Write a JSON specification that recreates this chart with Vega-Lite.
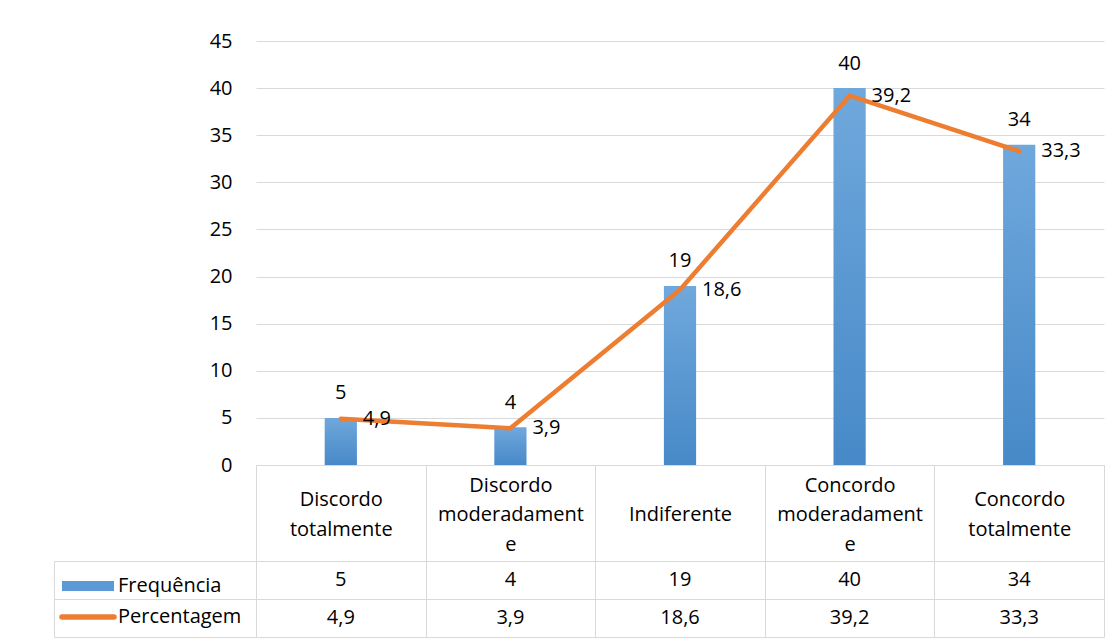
{
  "$schema": "https://vega.github.io/schema/vega-lite/v6.json",
  "background": "white",
  "padding": {"left": 53, "top": 31, "right": 0, "bottom": 0},
  "bounds": "flush",
  "spacing": 96,
  "config": {
    "font": "Open Sans",
    "locale": {"number": {"decimal": ",", "thousands": ".", "grouping": [3], "currency": ["", " €"]}},
    "view": {"stroke": null},
    "axis": {"labelFont": "Open Sans", "labelFontSize": 20, "labelColor": "#000000"},
    "text": {"font": "Open Sans", "fontSize": 20, "fill": "#000000"},
    "legend": {"labelFont": "Open Sans", "labelFontSize": 20, "labelColor": "#000000"}
  },
  "data": {
    "values": [
      {"Categoria": "Discordo totalmente", "Frequência": 5, "Percentagem": 4.9},
      {"Categoria": "Discordo moderadamente", "Frequência": 4, "Percentagem": 3.9},
      {"Categoria": "Indiferente", "Frequência": 19, "Percentagem": 18.6},
      {"Categoria": "Concordo moderadamente", "Frequência": 40, "Percentagem": 39.2},
      {"Categoria": "Concordo totalmente", "Frequência": 34, "Percentagem": 33.3}
    ]
  },
  "vconcat": [
    {
      "width": 848,
      "height": 424,
      "encoding": {
        "x": {
          "field": "Categoria",
          "type": "nominal",
          "sort": null,
          "scale": {"paddingInner": 0, "paddingOuter": 0},
          "axis": {
            "title": null,
            "orient": "bottom",
            "domain": true,
            "domainColor": "#d9d9d9",
            "ticks": true,
            "tickBand": "extent",
            "tickSize": 96,
            "tickColor": "#d9d9d9",
            "labelAngle": 0,
            "labelBaseline": "middle",
            "labelPadding": -76,
            "labelLineHeight": 14.75,
            "labelOverlap": false,
            "labelFlush": false,
            "labelExpr": "datum.label == 'Discordo moderadamente' ? ['Discordo', '\u2800', 'moderadament', '\u2800', 'e'] : datum.label == 'Concordo moderadamente' ? ['Concordo', '\u2800', 'moderadament', '\u2800', 'e'] : datum.label == 'Indiferente' ? ['\u2800', '\u2800', 'Indiferente'] : ['\u2800', split(datum.label, ' ')[0], '\u2800', split(datum.label, ' ')[1]]"
          }
        }
      },
      "layer": [
        {
          "mark": {
            "type": "bar",
            "width": {"band": 0.19},
            "fill": {
              "gradient": "linear",
              "x1": 0, "y1": 0, "x2": 0, "y2": 1,
              "stops": [
                {"offset": 0, "color": "#6fa8dc"},
                {"offset": 1, "color": "#4789c8"}
              ]
            }
          },
          "encoding": {
            "y": {
              "field": "Frequência",
              "type": "quantitative",
              "scale": {"domain": [0, 45], "nice": false},
              "axis": {
                "title": null,
                "values": [0, 5, 10, 15, 20, 25, 30, 35, 40, 45],
                "domain": false,
                "ticks": false,
                "labelPadding": 24,
                "grid": true,
                "gridColor": "#d9d9d9"
              }
            }
          }
        },
        {
          "mark": {"type": "line", "strokeWidth": 4.5, "strokeCap": "round", "strokeJoin": "round"},
          "encoding": {
            "y": {"field": "Percentagem", "type": "quantitative"},
            "stroke": {
              "datum": "Percentagem",
              "type": "nominal",
              "scale": {"domain": ["Frequência", "Percentagem"], "range": ["#5b9bd5", "#ed7d31"]},
              "legend": {
                "title": null,
                "orient": "none",
                "legendX": -178,
                "legendY": 535,
                "direction": "vertical",
                "padding": 0,
                "symbolType": "stroke",
                "symbolSize": 2704,
                "symbolFillColor": "transparent",
                "labelOffset": 20,
                "rowPadding": 0,
                "encode": {
                  "symbols": {
                    "update": {
                      "strokeWidth": {"signal": "datum.value === 'Frequência' ? 10 : 5.5"},
                      "strokeCap": {"signal": "datum.value === 'Frequência' ? 'butt' : 'round'"}
                    }
                  }
                }
              }
            }
          }
        },
        {
          "mark": {"type": "text", "baseline": "alphabetic", "dy": -18.5},
          "encoding": {
            "y": {"field": "Frequência", "type": "quantitative"},
            "text": {"field": "Frequência", "type": "quantitative", "format": "~g"}
          }
        },
        {
          "mark": {"type": "text", "align": "left", "baseline": "middle", "dx": 22},
          "encoding": {
            "y": {"field": "Percentagem", "type": "quantitative"},
            "text": {"field": "Percentagem", "type": "quantitative", "format": "~g"}
          }
        }
      ]
    },
    {
      "width": 848,
      "height": 76,
      "transform": [{"fold": ["Frequência", "Percentagem"], "as": ["Série", "Valor"]}],
      "mark": {"type": "text"},
      "encoding": {
        "x": {
          "field": "Categoria",
          "type": "nominal",
          "sort": null,
          "scale": {"paddingInner": 0, "paddingOuter": 0},
          "axis": {
            "title": null,
            "orient": "top",
            "grid": true,
            "gridColor": "#d9d9d9",
            "tickBand": "extent",
            "labels": false,
            "ticks": false,
            "domain": false
          }
        },
        "y": {
          "field": "Série",
          "type": "nominal",
          "sort": ["Frequência", "Percentagem"],
          "scale": {"paddingInner": 0, "paddingOuter": 0},
          "axis": {
            "title": null,
            "offset": 202,
            "domain": true,
            "domainColor": "#d9d9d9",
            "ticks": true,
            "tickSize": -202,
            "tickBand": "extent",
            "tickColor": "#d9d9d9",
            "grid": true,
            "gridColor": "#d9d9d9",
            "labels": false
          }
        },
        "text": {"field": "Valor", "type": "quantitative", "format": "~g"}
      }
    }
  ]
}
